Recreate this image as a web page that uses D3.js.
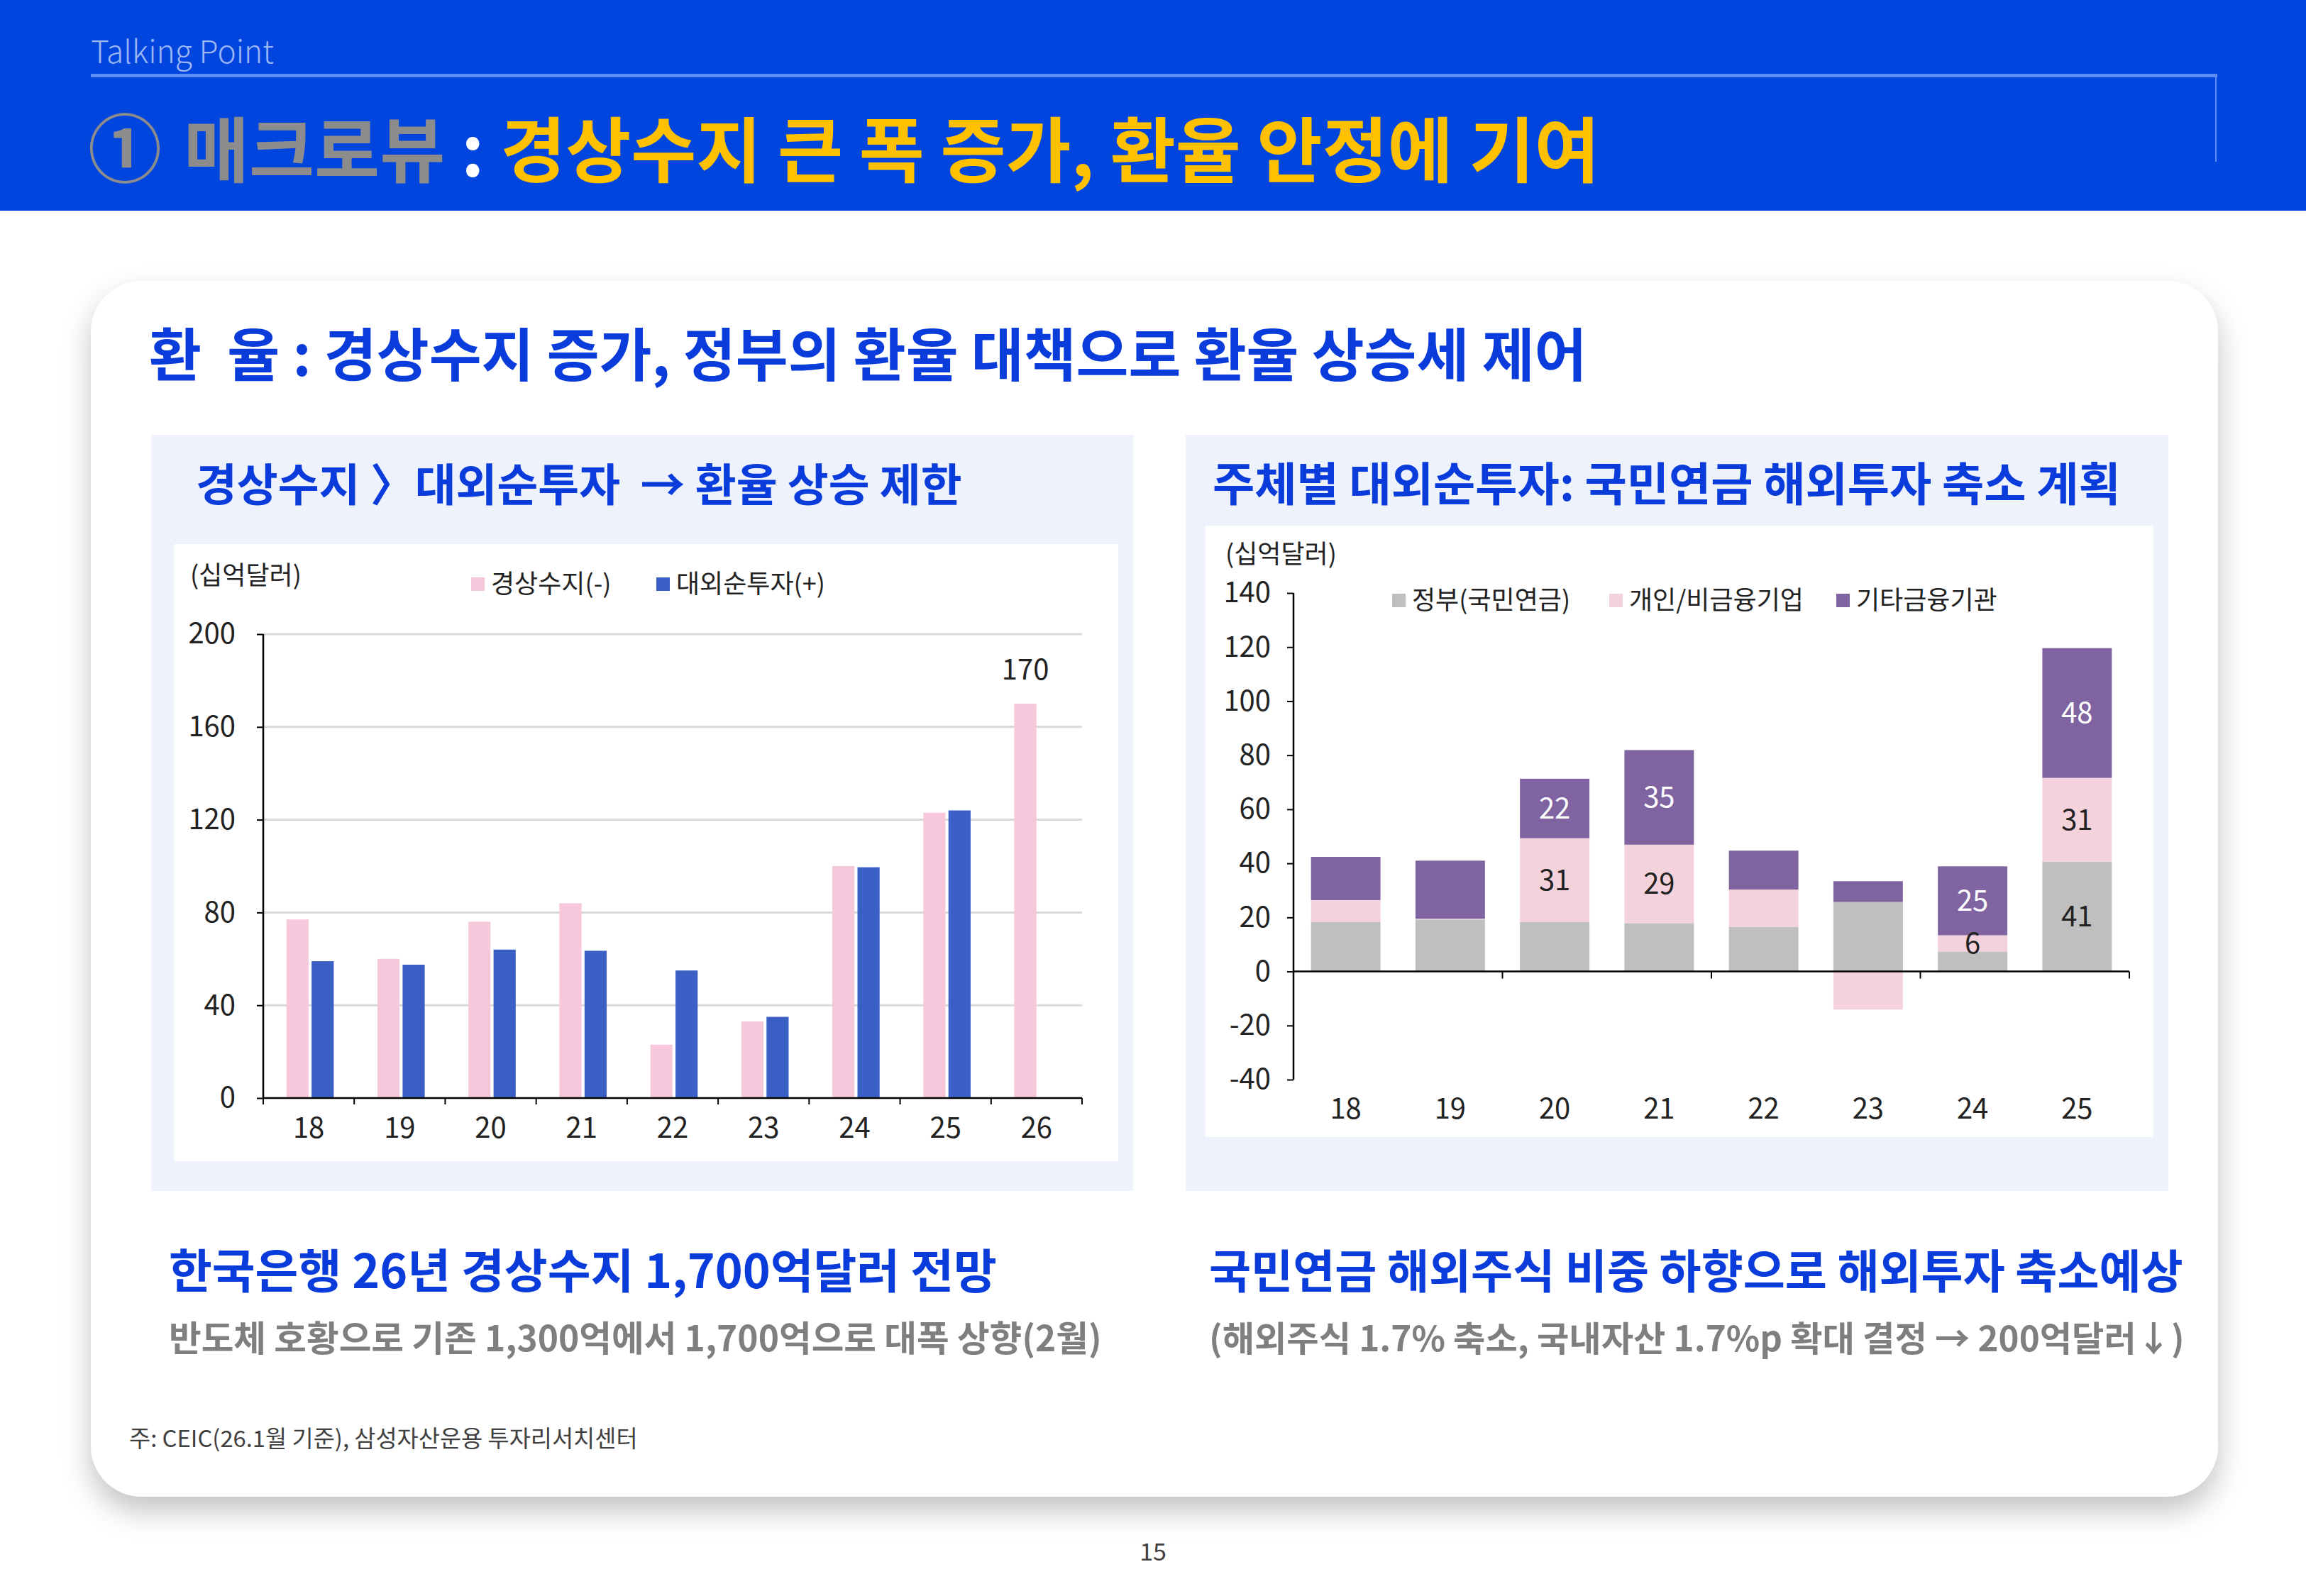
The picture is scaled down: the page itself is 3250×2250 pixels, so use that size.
<!DOCTYPE html>
<html><head><meta charset="utf-8">
<script src="https://cdn.jsdelivr.net/npm/d3@7"></script>
<style>
body{margin:0;background:#fff}
svg{display:block}
text{font-family:"Noto Sans CJK KR","Noto Sans",sans-serif}
</style>
</head><body>
<svg id="c" width="3250" height="2250"></svg>
<script>
// ---------------- DATA ----------------
const leftCategories = ["18","19","20","21","22","23","24","25","26"];
const currentAccount = [77, 60, 76, 84, 23, 33, 100, 123, 170];
const netForeignInvestment = [59, 57.5, 64, 63.5, 55, 35, 99.5, 124, null];
const leftTicks = [0, 40, 80, 120, 160, 200];
const leftSeriesNames = ["경상수지(-)", "대외순투자(+)"];
const leftUnit = "(십억달러)";

const rightCategories = ["18","19","20","21","22","23","24","25"];
const govPension = [18.3, 19.2, 18.3, 17.9, 16.5, 25.7, 7.4, 40.6];
const individualCorp = [8.1, 0.3, 31, 29, 13.8, -14.1, 6, 31];
const otherFinancial = [16, 21.5, 22, 35, 14.4, 7.7, 25.5, 48];
const govLabels = ["", "", "", "", "", "", "", "41"];
const indivLabels = ["", "", "31", "29", "", "", "6", "31"];
const otherLabels = ["", "", "22", "35", "", "", "25", "48"];
const rightTicks = [-40, -20, 0, 20, 40, 60, 80, 100, 120, 140];
const rightSeriesNames = ["정부(국민연금)", "개인/비금융기업", "기타금융기관"];
const rightUnit = "(십억달러)";

// ---------------- STYLE ----------------
const C = {
  headerBg: "#0046DE", headerLine: "#5B8DF2", talking: "#9DB6F3",
  gray: "#8C8C8C", yellow: "#FFC000", blue: "#0A3CDC",
  panel: "#EEF2FC", grid: "#D9D9D9",
  pinkL: "#F7C8DC", blueL: "#3A60C6",
  sGray: "#BFBFBF", sPink: "#F4D2DC", sPurple: "#8064A2",
  subGray: "#7F7F7F"
};

const svg = d3.select("#c");
function fit(sel, w) {
  const n = sel.node();
  const cur = n.getComputedTextLength();
  const fs = parseFloat(sel.attr("font-size"));
  sel.attr("font-size", fs * w / cur);
  return sel;
}

// defs
const defs = svg.append("defs");
const f = defs.append("filter").attr("id", "sh").attr("x", "-5%").attr("y", "-8%").attr("width", "110%").attr("height", "125%");
f.append("feDropShadow").attr("dx", 0).attr("dy", 20).attr("stdDeviation", 20)
  .attr("flood-color", "#000").attr("flood-opacity", 0.24);

// ---------------- HEADER ----------------
svg.append("rect").attr("x", 0).attr("y", 0).attr("width", 3250).attr("height", 297).attr("fill", C.headerBg);
fit(svg.append("text").attr("x", 128).attr("y", 89).attr("font-size", 48).attr("font-weight", 300)
  .attr("fill", C.talking).text("Talking Point"), 258);
svg.append("rect").attr("x", 128).attr("y", 104).attr("width", 2997).attr("height", 5).attr("fill", C.headerLine);
svg.append("rect").attr("x", 3122).attr("y", 104).attr("width", 2).attr("height", 124).attr("fill", C.headerLine);

fit(svg.append("text").attr("x", 124).attr("y", 249).attr("font-size", 116).attr("font-weight", 700)
  .attr("fill", C.gray).text("①"), 104);
const ht = svg.append("text").attr("x", 259).attr("y", 249).attr("font-size", 100).attr("font-weight", 700);
ht.append("tspan").attr("fill", C.gray).text("매크로뷰 ");
ht.append("tspan").attr("fill", "#fff").text(": ");
ht.append("tspan").attr("fill", C.yellow).text("경상수지 큰 폭 증가, 환율 안정에 기여");
fit(ht, 1996);

// ---------------- CARD ----------------
svg.append("rect").attr("x", 128).attr("y", 396).attr("width", 2998).attr("height", 1714)
  .attr("rx", 72).attr("fill", "#fff").attr("filter", "url(#sh)");

fit(svg.append("text").attr("x", 210).attr("y", 530).attr("font-size", 82).attr("font-weight", 700)
  .attr("fill", C.blue).attr("xml:space", "preserve")
  .text("환  율 : 경상수지 증가, 정부의 환율 대책으로 환율 상승세 제어"), 2027);

// panels
svg.append("rect").attr("x", 213).attr("y", 613).attr("width", 1384).attr("height", 1066).attr("fill", C.panel);
svg.append("rect").attr("x", 1671).attr("y", 613).attr("width", 1385).attr("height", 1066).attr("fill", C.panel);
svg.append("rect").attr("x", 245).attr("y", 767).attr("width", 1331).attr("height", 870).attr("fill", "#fff");
svg.append("rect").attr("x", 1699).attr("y", 741).attr("width", 1336).attr("height", 862).attr("fill", "#fff");

fit(svg.append("text").attr("x", 276).attr("y", 706).attr("font-size", 64).attr("font-weight", 700)
  .attr("fill", C.blue).attr("xml:space", "preserve")
  .text("경상수지 〉대외순투자  → 환율 상승 제한"), 1080);
fit(svg.append("text").attr("x", 1709).attr("y", 706).attr("font-size", 64).attr("font-weight", 700)
  .attr("fill", C.blue).text("주체별 대외순투자: 국민연금 해외투자 축소 계획"), 1280);

// ---------------- LEFT CHART ----------------
const L = { x0: 371, x1: 1525, y0: 1548, yTop: 894 };
const xL = d3.scaleBand().domain(leftCategories).range([L.x0, L.x1]);
const xLs = d3.scaleBand().domain([0, 1]).range([0.255, 0.775].map(v => v * xL.bandwidth())).paddingInner(0.12);
const yL = d3.scaleLinear().domain([0, 200]).range([L.y0, L.yTop]);
const gL = svg.append("g");

gL.selectAll(".grid").data(leftTicks.filter(d => d > 0)).join("line")
  .attr("x1", L.x0).attr("x2", L.x1).attr("y1", d => yL(d)).attr("y2", d => yL(d))
  .attr("stroke", C.grid).attr("stroke-width", 3);

const leftSeries = [currentAccount, netForeignInvestment];
const leftColors = [C.pinkL, C.blueL];
leftSeries.forEach((vals, si) => {
  gL.append("g").selectAll("rect").data(leftCategories.map((c, i) => ({ c, v: vals[i] })).filter(d => d.v != null))
    .join("rect")
    .attr("x", d => xL(d.c) + xLs(si)).attr("width", xLs.bandwidth())
    .attr("y", d => yL(d.v)).attr("height", d => yL(0) - yL(d.v))
    .attr("fill", leftColors[si]);
});
// value label 26
const lastI = leftCategories.length - 1;
gL.append("text").attr("x", xL(leftCategories[lastI]) + xLs(0) + xLs.bandwidth() / 2).attr("y", yL(currentAccount[lastI]) - 34)
  .attr("text-anchor", "middle").attr("font-size", 40).attr("fill", "#222").text(currentAccount[lastI]);

const yAxL = gL.append("g").attr("transform", `translate(${L.x0},0)`)
  .call(d3.axisLeft(yL).tickValues(leftTicks).tickSize(9).tickPadding(30).tickFormat(d => d));
yAxL.select(".domain").attr("stroke", "#000").attr("stroke-width", 2.5).attr("d", `M0,${L.y0}V${L.yTop}`);
yAxL.selectAll(".tick line").attr("stroke", "#000").attr("stroke-width", 2);
yAxL.selectAll(".tick text").attr("font-size", 40).attr("fill", "#222").attr("font-family", "\"Noto Sans CJK KR\"");

gL.append("line").attr("x1", L.x0).attr("x2", L.x1).attr("y1", L.y0).attr("y2", L.y0).attr("stroke", "#000").attr("stroke-width", 2.5);
gL.selectAll(".xt").data(d3.range(leftCategories.length + 1)).join("line")
  .attr("x1", i => L.x0 + i * xL.step()).attr("x2", i => L.x0 + i * xL.step())
  .attr("y1", L.y0).attr("y2", L.y0 + 9).attr("stroke", "#000").attr("stroke-width", 2);
gL.selectAll(".xl").data(leftCategories).join("text")
  .attr("x", d => xL(d) + xL.bandwidth() / 2).attr("y", 1604).attr("text-anchor", "middle")
  .attr("font-size", 40).attr("fill", "#222").text(d => d);

gL.append("text").attr("x", 268).attr("y", 824).attr("font-size", 36).attr("fill", "#222").text(leftUnit);
const legLx = [664, 925];
leftSeriesNames.forEach((n, i) => {
  gL.append("rect").attr("x", legLx[i]).attr("y", 814).attr("width", 19).attr("height", 19).attr("fill", leftColors[i]);
  gL.append("text").attr("x", legLx[i] + 28).attr("y", 836).attr("font-size", 36).attr("fill", "#222").text(n);
});

// ---------------- RIGHT CHART ----------------
const R = { x0: 1823, x1: 3001, yTop: 836, yBot: 1522 };
const xR = d3.scaleBand().domain(rightCategories).range([R.x0, R.x1]).paddingInner(0.335).paddingOuter(0.1675);
const yR = d3.scaleLinear().domain([-40, 140]).range([R.yBot, R.yTop]);
const gR = svg.append("g");

const rows = rightCategories.map((c, i) => ({ c, gov: govPension[i], ind: individualCorp[i], oth: otherFinancial[i] }));
const keys = ["gov", "ind", "oth"];
const rColors = { gov: C.sGray, ind: C.sPink, oth: C.sPurple };
const rLabels = { gov: govLabels, ind: indivLabels, oth: otherLabels };
const rLabelColor = { gov: "#222", ind: "#222", oth: "#fff" };
const stack = d3.stack().keys(keys).offset(d3.stackOffsetDiverging)(rows);

stack.forEach(s => {
  gR.append("g").selectAll("rect").data(s).join("rect")
    .attr("x", d => xR(d.data.c)).attr("width", xR.bandwidth())
    .attr("y", d => yR(Math.max(d[0], d[1]))).attr("height", d => Math.abs(yR(d[0]) - yR(d[1])))
    .attr("fill", rColors[s.key]);
});
stack.forEach(s => {
  gR.append("g").selectAll("text").data(s.map((d, i) => ({ d, i })).filter(o => rLabels[s.key][o.i] !== ""))
    .join("text")
    .attr("x", o => xR(o.d.data.c) + xR.bandwidth() / 2)
    .attr("y", o => yR((o.d[0] + o.d[1]) / 2) + 14)
    .attr("text-anchor", "middle").attr("font-size", 40).attr("fill", rLabelColor[s.key])
    .text(o => rLabels[s.key][o.i]);
});

const yAxR = gR.append("g").attr("transform", `translate(${R.x0},0)`)
  .call(d3.axisLeft(yR).tickValues(rightTicks).tickSize(9).tickPadding(23).tickFormat(d => String(d)));
yAxR.select(".domain").attr("stroke", "#000").attr("stroke-width", 2.5).attr("d", `M0,${R.yBot}V${R.yTop}`);
yAxR.selectAll(".tick line").attr("stroke", "#000").attr("stroke-width", 2);
yAxR.selectAll(".tick text").attr("font-size", 40).attr("fill", "#222").attr("font-family", "\"Noto Sans CJK KR\"");

gR.append("line").attr("x1", R.x0).attr("x2", R.x1).attr("y1", yR(0)).attr("y2", yR(0)).attr("stroke", "#000").attr("stroke-width", 2.5);
gR.selectAll(".xt").data([2, 4, 6, 8]).join("line")
  .attr("x1", i => R.x0 + i * xR.step()).attr("x2", i => R.x0 + i * xR.step())
  .attr("y1", yR(0)).attr("y2", yR(0) + 10).attr("stroke", "#000").attr("stroke-width", 2);
gR.selectAll(".xl").data(rightCategories).join("text")
  .attr("x", d => xR(d) + xR.bandwidth() / 2).attr("y", 1577).attr("text-anchor", "middle")
  .attr("font-size", 40).attr("fill", "#222").text(d => d);

gR.append("text").attr("x", 1727).attr("y", 794).attr("font-size", 36).attr("fill", "#222").text(rightUnit);
const legRx = [1962, 2268, 2588];
keys.forEach((k, i) => {
  gR.append("rect").attr("x", legRx[i]).attr("y", 837).attr("width", 19).attr("height", 19).attr("fill", rColors[k]);
  gR.append("text").attr("x", legRx[i] + 28).attr("y", 859).attr("font-size", 36).attr("fill", "#222").text(rightSeriesNames[i]);
});

// ---------------- BOTTOM TEXT ----------------
fit(svg.append("text").attr("x", 238).attr("y", 1816).attr("font-size", 68).attr("font-weight", 700)
  .attr("fill", C.blue).text("한국은행 26년 경상수지 1,700억달러 전망"), 1167);
fit(svg.append("text").attr("x", 238).attr("y", 1905).attr("font-size", 50).attr("font-weight", 700)
  .attr("fill", C.subGray).text("반도체 호황으로 기존 1,300억에서 1,700억으로 대폭 상향(2월)"), 1315);
fit(svg.append("text").attr("x", 1704).attr("y", 1816).attr("font-size", 68).attr("font-weight", 700)
  .attr("fill", C.blue).text("국민연금 해외주식 비중 하향으로 해외투자 축소예상"), 1373);
fit(svg.append("text").attr("x", 1704).attr("y", 1905).attr("font-size", 50).attr("font-weight", 700)
  .attr("fill", C.subGray).text("(해외주식 1.7% 축소, 국내자산 1.7%p 확대 결정 → 200억달러↓)"), 1375);
fit(svg.append("text").attr("x", 182).attr("y", 2040).attr("font-size", 32)
  .attr("fill", "#404040").text("주: CEIC(26.1월 기준), 삼성자산운용 투자리서치센터"), 717);
svg.append("text").attr("x", 1625).attr("y", 2200).attr("text-anchor", "middle").attr("font-size", 34)
  .attr("fill", "#404040").text("15");
</script>
</body></html>
